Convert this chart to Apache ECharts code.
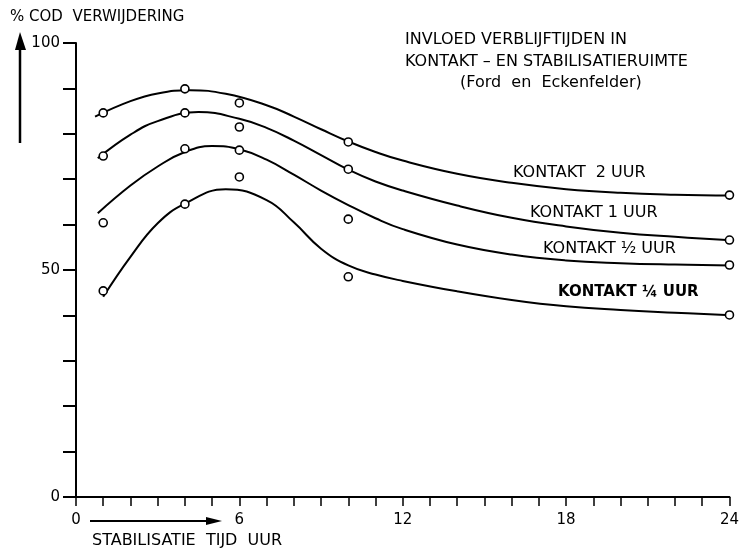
<!DOCTYPE html>
<html>
<head>
<meta charset="utf-8">
<style>
  html, body { margin: 0; padding: 0; background: #fff; }
  #chart { width: 742px; height: 548px; }
</style>
<script src="https://cdn.jsdelivr.net/npm/echarts@6/dist/echarts.min.js"></script>
</head>
<body>
<div id="chart"></div>
<script>
// gemeten punten (stabilisatietijd uur)
var pointHours = [1, 4, 6, 10, 24];
var points2 = [84.6, 89.9, 86.8, 78.2, 66.5];
var points1 = [75.1, 84.6, 81.5, 72.2, 56.6];
var pointsHalf = [60.4, 76.7, 76.4, 61.2, 51.1];
var pointsQuarter = [45.4, 64.5, 70.5, 48.5, 40.1];

var curve2X = [0.7, 2, 3, 4.2, 5.5, 7, 8, 9, 10, 11, 12, 14, 16, 18, 20, 22, 24.2];
var curve2Y = [83.8, 87.2, 88.9, 89.6, 88.8, 86.3, 83.8, 81.0, 78.3, 76.0, 74.1, 71.2, 69.2, 67.8, 67.0, 66.6, 66.4];
var curve1X = [0.8, 2, 3, 4.5, 6, 7, 8, 9, 10, 11, 12, 14, 16, 18, 20, 22, 24.2];
var curve1Y = [74.6, 79.8, 82.8, 84.8, 83.3, 81.3, 78.5, 75.3, 72.1, 69.5, 67.5, 64.2, 61.5, 59.6, 58.2, 57.3, 56.5];
var curveHalfX = [0.8, 2, 3, 4, 5, 6, 7, 8, 9, 10, 11, 12, 14, 16, 18, 20, 22, 24.2];
var curveHalfY = [62.5, 68.6, 72.8, 76.0, 77.3, 76.6, 74.3, 71.0, 67.5, 64.3, 61.4, 59.0, 55.6, 53.4, 52.1, 51.5, 51.2, 51.0];
var curveQuarterX = [1, 2, 3, 4, 5.5, 7, 8, 9, 10, 11, 12, 14, 16, 18, 20, 22, 24.2];
var curveQuarterY = [44.1, 52.9, 60.3, 64.6, 67.8, 65.4, 60.5, 54.7, 51.0, 49.0, 47.6, 45.3, 43.4, 42.0, 41.2, 40.6, 40.0];

var yLabels = [0, 50, 100];
var xLabels = [0, 6, 12, 18, 24];

var FONT = '"DejaVu Sans", Verdana, sans-serif';

function pairs(xs, ys) {
  return xs.map(function (x, i) { return [x, ys[i]]; });
}

function curve(xs, ys) {
  return {
    type: 'line',
    data: pairs(xs, ys),
    smooth: 0.45,
    showSymbol: false,
    silent: true,
    lineStyle: { color: '#000', width: 2 },
    z: 2
  };
}

function dots(ys) {
  return {
    type: 'scatter',
    data: pairs(pointHours, ys),
    symbol: 'circle',
    symbolSize: 8,
    itemStyle: { color: '#fff', borderColor: '#000', borderWidth: 1.6, opacity: 1 },
    z: 3
  };
}

function label(text, left, top, size, bold) {
  return {
    type: 'text', left: left, top: top,
    style: { text: text, font: (bold ? 'bold ' : '') + size + 'px ' + FONT, fill: '#000' }
  };
}

var chart = echarts.init(document.getElementById('chart'));
var option = {
  backgroundColor: '#fff',
  animation: false,
  grid: { left: 76, right: 11, top: 43, bottom: 51, containLabel: false },
  xAxis: {
    type: 'value',
    min: 0,
    max: 24,
    interval: 1,
    axisLine: { lineStyle: { color: '#000', width: 2 } },
    axisTick: { length: 9, lineStyle: { color: '#000', width: 1.5 } },
    axisLabel: {
      margin: 16,
      color: '#000',
      fontFamily: FONT,
      fontSize: 15,
      formatter: function (v) { return xLabels.indexOf(v) >= 0 ? String(v) : ''; }
    },
    splitLine: { show: false }
  },
  yAxis: {
    type: 'value',
    min: 0,
    max: 100,
    interval: 10,
    axisLine: { show: true, lineStyle: { color: '#000', width: 2 } },
    axisTick: { show: true, length: 13, lineStyle: { color: '#000', width: 2 } },
    axisLabel: {
      margin: 16,
      color: '#000',
      fontFamily: FONT,
      fontSize: 15,
      formatter: function (v) { return yLabels.indexOf(v) >= 0 ? String(v) : ''; }
    },
    splitLine: { show: false }
  },
  series: [
    curve(curve2X, curve2Y),
    curve(curve1X, curve1Y),
    curve(curveHalfX, curveHalfY),
    curve(curveQuarterX, curveQuarterY),
    dots(points2),
    dots(points1),
    dots(pointsHalf),
    dots(pointsQuarter)
  ],
  graphic: [
    // y-as titel met pijl
    label('% COD  VERWIJDERING', 10, 10, 15),
    { type: 'line', shape: { x1: 20, y1: 143, x2: 20, y2: 45 }, style: { stroke: '#000', lineWidth: 2.5 } },
    { type: 'polygon', shape: { points: [[20, 32], [15, 50], [26, 50]] }, style: { fill: '#000' } },
    // x-as titel met pijl
    { type: 'line', shape: { x1: 90, y1: 521, x2: 210, y2: 521 }, style: { stroke: '#000', lineWidth: 2 } },
    { type: 'polygon', shape: { points: [[222, 521], [206, 517], [206, 525]] }, style: { fill: '#000' } },
    label('STABILISATIE  TIJD  UUR', 92, 533, 16),
    // titel
    label('INVLOED VERBLIJFTIJDEN IN', 405, 32, 16),
    label('KONTAKT – EN STABILISATIERUIMTE', 405, 54, 16),
    label('(Ford  en  Eckenfelder)', 460, 75, 16),
    // kromme-namen
    label('KONTAKT  2 UUR', 513, 165, 16),
    label('KONTAKT 1 UUR', 530, 205, 16),
    label('KONTAKT ½ UUR', 543, 241, 16),
    label('KONTAKT ¼ UUR', 558, 285, 15, true)
  ]
};
chart.setOption(option);
</script>
</body>
</html>
